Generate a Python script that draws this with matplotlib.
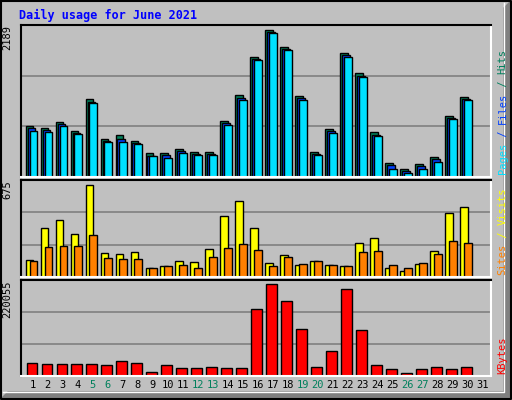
import matplotlib.pyplot as plt
import numpy as np

days = np.arange(1, 31)
hits = [765, 735, 825, 690, 1155, 570, 630, 540, 360, 360, 420, 375, 375, 840, 1215,
        1785, 2189, 1935, 1200, 375, 720, 1845, 1545, 675, 210, 120, 195, 300, 915, 1185]
files = [735, 705, 795, 660, 1110, 540, 570, 510, 315, 330, 390, 345, 345, 810, 1170,
         1755, 2160, 1905, 1170, 345, 690, 1815, 1500, 630, 180, 90, 165, 270, 885, 1155]
pages = [690, 670, 765, 645, 1095, 525, 525, 495, 315, 285, 360, 330, 330, 780, 1140,
         1740, 2145, 1890, 1140, 330, 660, 1785, 1485, 615, 120, 60, 120, 225, 870, 1140]
visits = [127, 358, 416, 314, 671, 177, 169, 184, 68, 82, 118, 111, 206, 440, 549,
          358, 104, 162, 90, 118, 90, 82, 249, 285, 68, 46, 97, 190, 467, 511]
sites = [119, 220, 228, 228, 307, 141, 133, 133, 68, 82, 90, 68, 148, 213, 242,
         198, 82, 148, 97, 118, 90, 82, 184, 191, 90, 68, 104, 169, 264, 249]
kbytes = [30400, 28000, 28000, 29200, 29200, 26800, 35200, 30400, 8800, 26800, 19600, 19600,
          22000, 19600, 19600, 159200, 220055, 178400, 113600, 20400, 59200, 208000, 111200,
          26800, 16800, 6400, 16800, 22000, 16800, 22000]
weekend = [5, 6, 12, 13, 19, 20, 26, 27]

W, H = 512, 400
fig = plt.figure(figsize=(W / 100, H / 100), dpi=100)
fig.patch.set_facecolor("#C0C0C0")
mono = "DejaVu Sans Mono"

# outer frame with bevel
fa = fig.add_axes([0, 0, 1, 1])
fa.set_xlim(0, W); fa.set_ylim(H, 0); fa.axis("off")
fa.plot([1, W - 1, W - 1, 1, 1], [1, 1, H - 1, H - 1, 1], color="black", lw=1.5)
fa.fill([W - 8, W - 2, W - 2, W - 8], [8, 2, H - 2, H - 8], color="#808080")
fa.fill([2, W - 2, W - 8, 8], [H - 2, H - 2, H - 8, H - 8], color="#808080")
fa.plot([3, W - 8, W - 8], [H - 8, H - 8, 3], color="white", lw=1)
fa.text(19, 15, "Daily usage for June 2021", color="#0000FF", fontsize=8.5,
        fontweight="bold", family=mono, va="center")


def panel(y0, y1, vmax, peak_px):
    ax = fig.add_axes([21 / W, 1 - y1 / H, (491 - 21) / W, (y1 - y0) / H])
    ax.set_facecolor("#C0C0C0")
    ax.set_xlim(0.233, 31.57)
    top = vmax * (y1 - y0) / peak_px
    ax.set_ylim(0, top)
    for g in (1 / 3, 2 / 3):
        ax.axhline(top * g, color="#808080", lw=1.2, zorder=0)
    ax.set_xticks([]); ax.set_yticks([])
    for s in ax.spines.values():
        s.set_color("black"); s.set_linewidth(1.5)
    ax.spines["right"].set_color("white"); ax.spines["bottom"].set_color("white")
    ax.text(-0.03, 1.0, str(vmax), transform=ax.transAxes, rotation=90,
            ha="center", va="top", fontsize=7.5, family=mono)
    return ax


kw = dict(edgecolor="black", linewidth=1, align="edge")
a1 = panel(25, 177, 2189, 147)
a1.bar(days - 0.466, hits, width=0.53, color="#00805C", **kw)
a1.bar(days - 0.333, files, width=0.53, color="#0040FF", **kw)
a1.bar(days - 0.2, pages, width=0.53, color="#00E0FF", **kw)

a2 = panel(180, 277, 675, 93)
a2.bar(days - 0.466, visits, width=0.53, color="#FFFF00", **kw)
a2.bar(days - 0.2, sites, width=0.53, color="#FF8000", **kw)

a3 = panel(280, 376, 220055, 92)
a3.bar(days - 0.4, kbytes, width=0.7, color="#FF0000", **kw)

for d in range(1, 32):
    a3.text(d, -0.09, str(d), transform=a3.get_xaxis_transform(), ha="center",
            va="center", fontsize=7.5, family=mono,
            color="#00805C" if d in weekend else "black")


def side(ax, parts):
    y = 0.02
    for txt, col in parts:
        t = ax.text(1.025, y, txt, transform=ax.transAxes, rotation=90, ha="center",
                    va="bottom", fontsize=7.5, family=mono, color=col)
        y += len(txt) * 0.6 * 7.5 / 72 * 100 / (ax.get_position().height * H)


side(a1, [("Pages", "#00E0FF"), (" / ", "#0040FF"), ("Files", "#0040FF"), (" / ", "#00805C"), ("Hits", "#00805C")])
side(a2, [("Sites", "#FF8000"), (" / ", "#FFFF00"), ("Visits", "#FFFF00")])
side(a3, [("KBytes", "#FF0000")])

fig.savefig("out.png", dpi=100, facecolor=fig.get_facecolor())
